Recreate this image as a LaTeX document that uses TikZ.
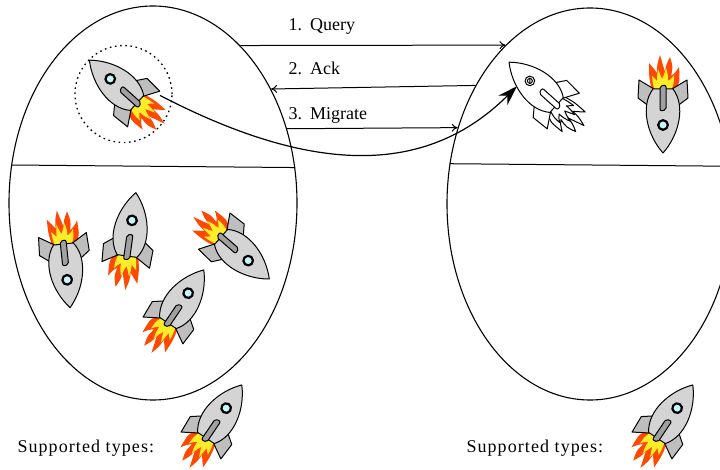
\documentclass[tikz,border=0pt]{standalone}
\usepackage{fontspec}
\setmainfont{Liberation Serif}
\usetikzlibrary{arrows.meta,shapes.geometric}

\definecolor{hullgrey}{RGB}{212,212,212}
\definecolor{fingrey}{RGB}{190,190,190}
\definecolor{nozzlegrey}{RGB}{160,160,160}
\definecolor{portglass}{RGB}{196,246,250}
\definecolor{fireout}{RGB}{255,72,0}
\definecolor{firein}{RGB}{255,236,40}

\tikzset{
  outer flame/.style={fill=fireout},
  inner flame/.style={fill=firein},
  fin/.style={fill=fingrey, draw=black},
  hull/.style={fill=hullgrey, draw=black},
  nozzle/.style={fill=nozzlegrey, draw=black},
  window glass/.style={fill=portglass, draw=black, line width=2.2pt},
}

% One rocket, nose up, origin at the centre of the tail
\newcommand\rocketbody{%
  \path[outer flame] (-11,2) .. controls (-17,-6) .. (-16,-22) .. controls (-12,-16) .. (-8,-13)
    .. controls (-10,-22) .. (-7,-32) .. controls (-3,-24) .. (-2,-17)
    .. controls (0,-25) .. (3,-34) .. controls (6,-24) .. (6,-16)
    .. controls (9,-20) .. (14,-26) .. controls (14,-12) .. (11,2) -- cycle;
  \path[inner flame] (-8,2) .. controls (-11,-6) .. (-11,-14) .. controls (-8,-10) .. (-5,-8)
    .. controls (-5,-14) .. (-3,-21) .. controls (-1,-14) .. (1,-10)
    .. controls (3,-15) .. (5,-20) .. controls (6,-12) .. (6,-8)
    .. controls (8,-10) .. (11,-13) .. controls (10,-4) .. (8,2) -- cycle;
  \path[fin] (-13,18) -- (-25,9) -- (-24,-9) -- (-9,0) -- cycle;
  \path[fin] (13,18) -- (25,9) -- (24,-9) -- (9,0) -- cycle;
  \path[hull] (-10,0) .. controls (-23,17) and (-16,46) .. (0,64)
    .. controls (16,46) and (23,17) .. (10,0) -- cycle;
  \path[nozzle, rounded corners=2pt] (-3,-4) -- (-3,21) -- (3,22) -- (3,-3) -- cycle;
  \path[window glass] (0,36) circle (4.8);
  \coordinate (-side) at (-12.5,42);
  \coordinate (-rear) at (21,-12);
}

\tikzset{
  pics/rocket/.style={code={\rocketbody}},
  pics/ghost rocket/.style={code={%
    \tikzset{
      outer flame/.style={fill=white, draw=black},
      inner flame/.style={draw=black},
      fin/.style={fill=white, draw=black},
      hull/.style={fill=white, draw=black},
      nozzle/.style={fill=white, draw=black},
      window glass/.style={fill=white, draw=black, line width=1pt}}
    \rocketbody
    \draw (0,36) circle (2.5);
    \draw (-2.4,33.8) -- (2.4,38.2);
  }},
  host/.style={ellipse, draw, inner sep=0pt, line width=1.1pt},
  lbl/.style={anchor=base west, inner sep=0pt, font=\fontsize{18}{21}\selectfont},
  msg/.style={line width=1pt, -{To[length=6pt,width=8pt]}},
}

\begin{document}
\begin{tikzpicture}[x=1pt, y=1pt, line width=1pt, line join=round]
\useasboundingbox (0,-470) rectangle (720,0);
\clip (0,-470) rectangle (720,0);

% the two hosts
\node[host, minimum width=288pt, minimum height=394pt] (L) at (153,-203) {};
\node[host, minimum width=286pt, minimum height=392pt] (R) at (590,-204) {};
\draw (L.165.3) -- (L.14.7);
\draw (R.164.8) -- (R.15.2);

% selected rocket
\node[circle, draw, inner sep=0pt, minimum size=97pt, line width=1.3pt,
      dash pattern=on 1.6pt off 3.6pt] (sel) at (123.5,-94) {};
\pic[rotate=48] (mover) at (137,-103) {rocket};
\pic[rotate=48] (ghost) at (556.6,-105) {ghost rocket};

% rockets already running
\pic[rotate=180] (rtop) at (663,-89) {rocket};
\pic[rotate=186] (ra) at (63.4,-244) {rocket};
\pic[rotate=-8] (rb) at (127,-256) {rocket};
\pic[rotate=229] (rc) at (221,-237) {rocket};
\pic[rotate=-34] (rd) at (168,-323) {rocket};

% protocol
\node[lbl] (q) at (288,-31) {1.\hspace{0.45em}Query};
\node[lbl] (a) at (288,-75) {2.\hspace{0.45em}Ack};
\node[lbl] (m) at (288,-120) {3.\hspace{0.45em}Migrate};
\draw[msg] (L.61.3) -- (R.118);
\draw[msg] (R.134.5) -- (L.44.3);
\draw[msg] (L.29.4) -- (R.150.1);
\draw[line width=1.2pt, -{Stealth[length=20pt,width=13pt]}]
  (mover-rear) .. controls (300,-168) and (420,-183) .. (ghost-side);

% supported types
\node[lbl, font=\fontsize{18}{21}\selectfont\addfontfeature{LetterSpace=6}] (stl) at (17,-452) {Supported types:};
\node[lbl, font=\fontsize{18}{21}\selectfont\addfontfeature{LetterSpace=6}] (str) at (466,-452) {Supported types:};
\pic[rotate=-34] (kl) at (206,-438) {rocket};
\pic[rotate=-34] (kr) at (657,-438) {rocket};
\end{tikzpicture}
\end{document}
